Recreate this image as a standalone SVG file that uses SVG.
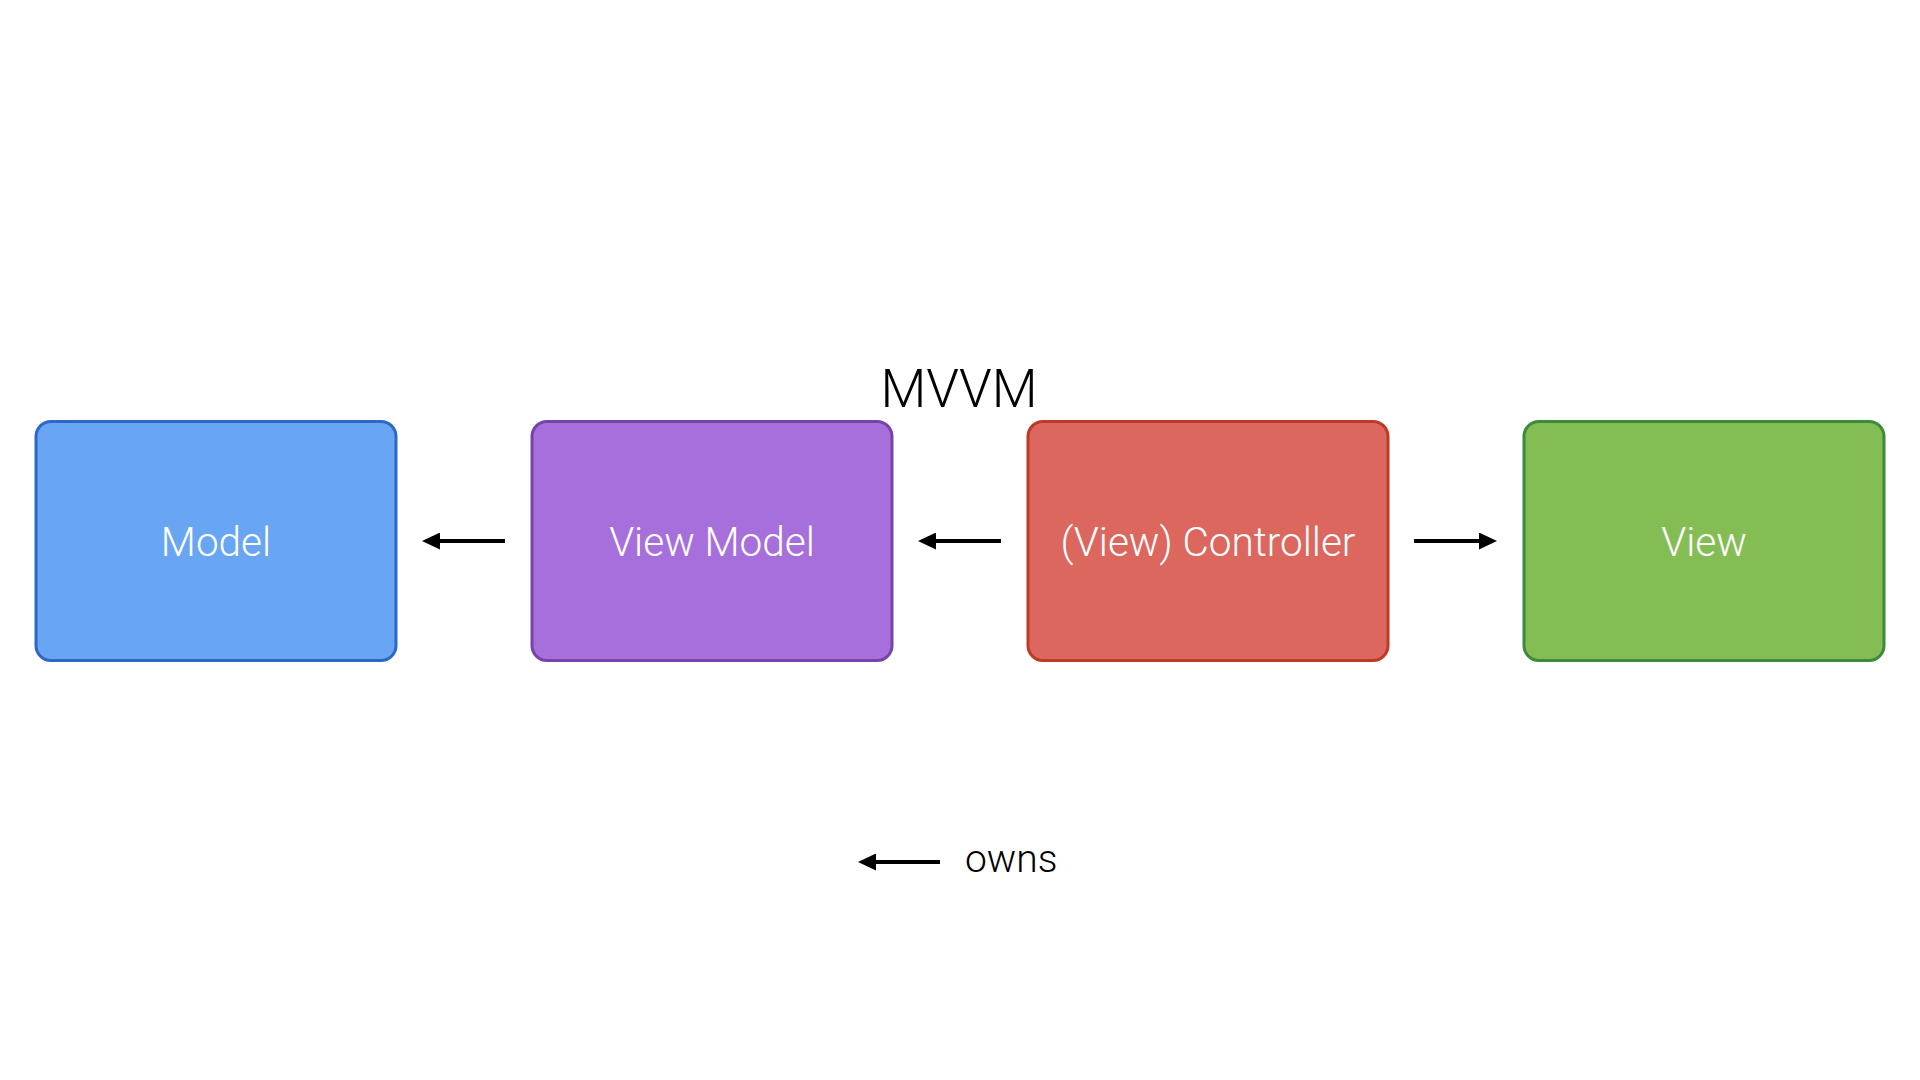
<svg xmlns="http://www.w3.org/2000/svg" width="1920" height="1080" viewBox="0 0 1920 1080">
<style>
  .box { stroke-width: 3; }
  .label { font-family: Roboto, "Helvetica Neue", "Liberation Sans", sans-serif; font-weight: 300; font-size: 40.5px; fill: #ffffff; text-anchor: middle; }
  .title { font-family: Roboto, "Helvetica Neue", "Liberation Sans", sans-serif; font-weight: 300; font-size: 53px; fill: #000000; text-anchor: middle; }
  .legend { font-family: Roboto, "Helvetica Neue", "Liberation Sans", sans-serif; font-weight: 300; font-size: 39px; fill: #000000; }
  .conn { stroke: #000000; stroke-width: 4; fill: none; marker-end: url(#arrow); }
</style>
<defs>
  <marker id="arrow" markerUnits="userSpaceOnUse" viewBox="0 0 18 17" refX="0" refY="8.5" markerWidth="18" markerHeight="17" orient="auto">
    <path d="M0,0 L18,8.5 L0,17 z" fill="#000000"/>
  </marker>
</defs>
<rect width="1920" height="1080" fill="#ffffff"/>
<text id="title" class="title" x="959" y="407">MVVM</text>
<g id="model">
  <rect class="box" x="36" y="421.5" width="360" height="239" rx="15" ry="15" fill="#68a5f3" stroke="#2f68c4"/>
  <text class="label" x="216" y="556">Model</text>
</g>
<g id="viewmodel">
  <rect class="box" x="532" y="421.5" width="360" height="239" rx="15" ry="15" fill="#a76fdc" stroke="#7444a8"/>
  <text class="label" x="712" y="556">View Model</text>
</g>
<g id="controller">
  <rect class="box" x="1028" y="421.5" width="360" height="239" rx="15" ry="15" fill="#dc675e" stroke="#bf3a26"/>
  <text class="label" x="1208" y="556">(View) Controller</text>
</g>
<g id="view">
  <rect class="box" x="1524" y="421.5" width="360" height="239" rx="15" ry="15" fill="#85bd55" stroke="#3f8a3a"/>
  <text class="label" x="1704" y="556">View</text>
</g>
<g id="connectors">
  <path class="conn" d="M505,541 H440"/>
  <path class="conn" d="M1001,541 H936"/>
  <path class="conn" d="M1414,541 H1479"/>
</g>
<g id="legend">
  <path class="conn" d="M940,862 H876"/>
  <text class="legend" x="965" y="872">owns</text>
</g>
</svg>
